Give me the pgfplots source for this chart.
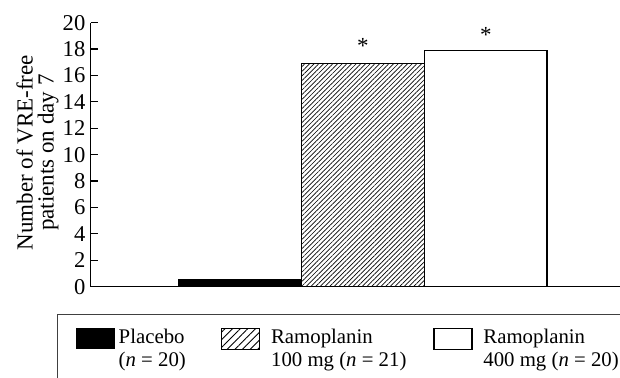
\documentclass[border=0pt]{standalone}
\usepackage{pgfplots}
\pgfplotsset{compat=1.18}
\usetikzlibrary{patterns.meta}
\usepackage{fontspec}
\setmainfont{Liberation Serif}
\begin{document}
\begin{tikzpicture}[x=1pt,y=1pt]
\begin{axis}[
  at={(45.35pt,45.65pt)}, anchor=south west,
  scale only axis, width=264.65pt, height=132pt,
  xmin=-0.214, xmax=4.092, ymin=0, ymax=20,
  axis x line*=bottom, axis y line*=left,
  axis line style={-, line width=0.7pt, black},
  ytick={0,2,...,20}, xtick=\empty,
  ytick align=inside,
  major tick length=3.5pt,
  tick style={line width=0.6pt, black},
  /pgf/number format/assume math mode=true,
  yticklabel style={font=\fontsize{11.3}{12}\selectfont, inner sep=1pt, xshift=-1.5pt},
  ylabel={Number of VRE-free\\patients on day 7},
  ylabel style={at={(axis description cs:0,0.5)}, anchor=south,
    yshift=15.8pt, xshift=1pt, inner sep=0pt, align=center,
    font=\fontsize{11.5}{10.5}\selectfont},
  ybar, bar width=1, bar shift=0pt,
  clip=false,
  point meta=explicit symbolic,
]
\addplot[fill=black, draw=black, line width=0.8pt] coordinates {(1,0.55)};
\addplot[pattern={Lines[angle=45,distance=1.65pt,line width=0.35pt]}, draw=black, line width=0.8pt,
  nodes near coords, every node near coord/.append style={font=\fontsize{11.5}{11}\selectfont, yshift=1.5pt}]
  coordinates {(2,16.9) [*]};
\addplot[fill=white, draw=black, line width=0.8pt,
  nodes near coords, every node near coord/.append style={font=\fontsize{11.5}{11}\selectfont, yshift=0pt}]
  coordinates {(3,17.9) [*]};
\end{axis}
% legend box
\draw[line width=0.5pt, black!75] (28.65,-30) rectangle (700,31.5);
\fill[black] (38,14.35) rectangle (57.5,24.85);
\draw[line width=0.6pt, pattern={Lines[angle=45,distance=2.7pt,line width=0.45pt]}] (110.85,14.35) rectangle (129.65,24.85);
\draw[line width=0.6pt, fill=white] (217,14.35) rectangle (236,24.85);
\begin{scope}[every node/.style={anchor=base west, inner sep=0pt, font=\fontsize{10.4}{12}\selectfont}]
\node at (59.15,17) {Placebo};
\node at (59.15,5.5) {(\textit{n} = 20)};
\node at (135.35,17) {Ramoplanin};
\node at (135.35,5.5) {100 mg (\textit{n} = 21)};
\node at (241.5,17) {Ramoplanin};
\node at (241.5,5.5) {400 mg (\textit{n} = 20)};
\end{scope}
\pgfresetboundingbox
\useasboundingbox (0,0) rectangle (310,189);
\end{tikzpicture}
\end{document}
